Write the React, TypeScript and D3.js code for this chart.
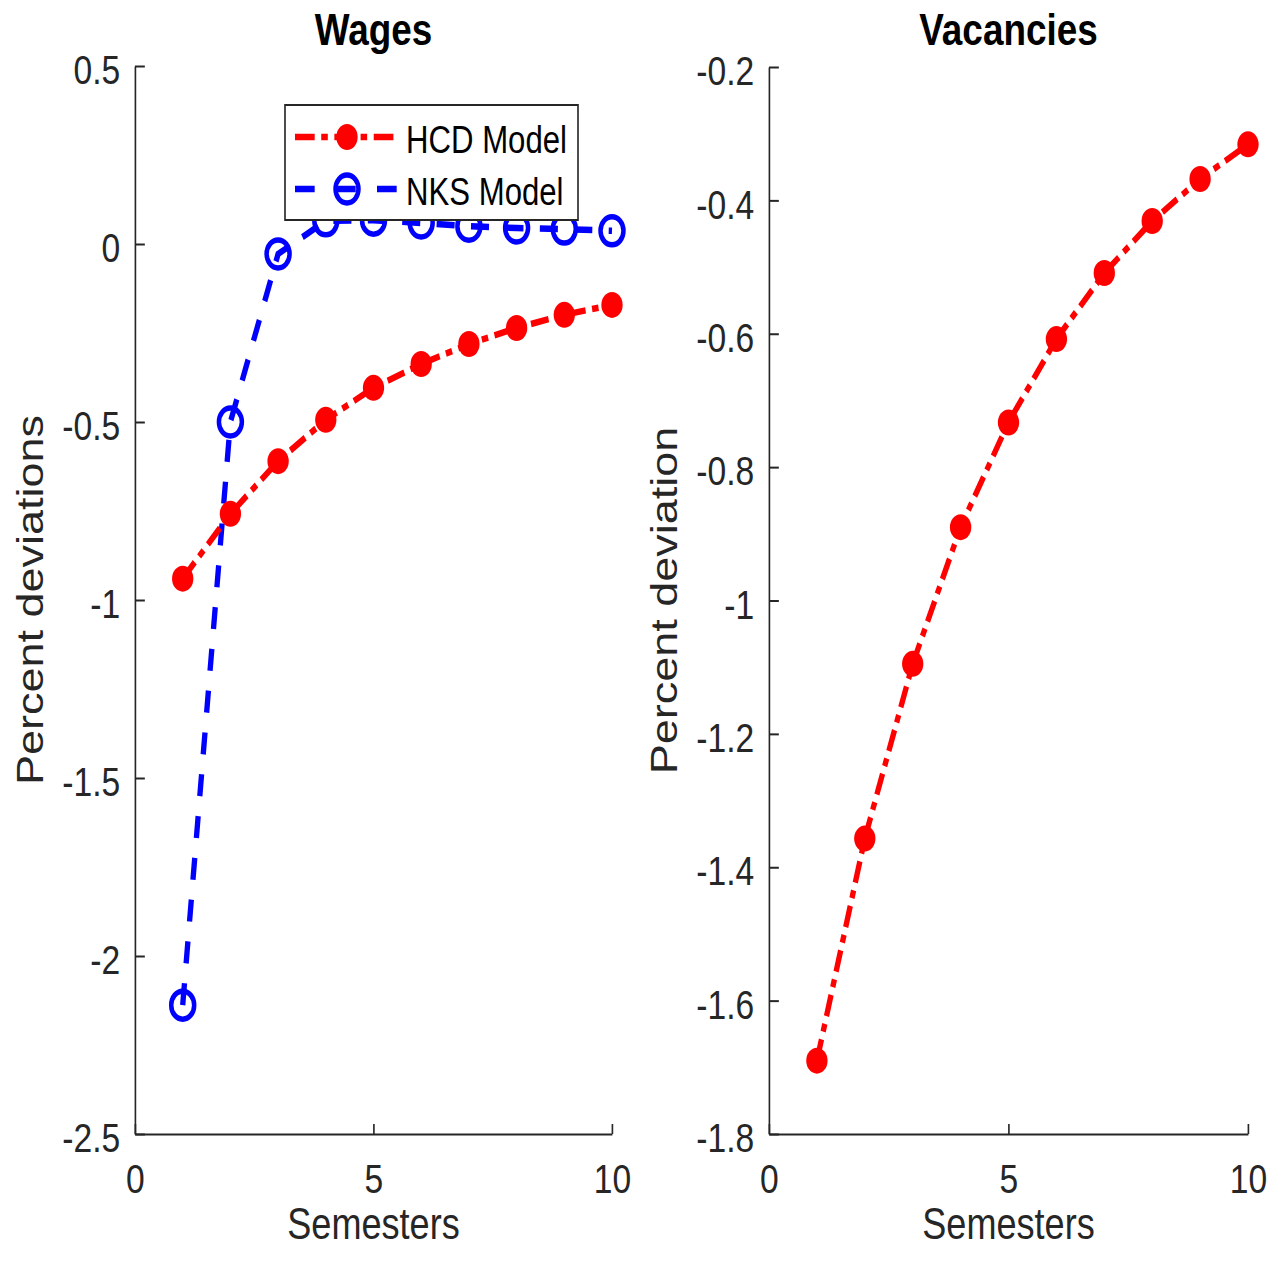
import React, { useRef, useEffect } from 'react';
import * as d3 from 'd3';

// Impulse responses
const semesters = [1, 2, 3, 4, 5, 6, 7, 8, 9, 10];
const wagesHCD = [-0.94, -0.758, -0.61, -0.494, -0.404, -0.337, -0.281, -0.236, -0.199, -0.171];
const wagesNKS = [-2.138, -0.5, -0.028, 0.065, 0.067, 0.059, 0.05, 0.045, 0.042, 0.037];
const vacanciesHCD = [-1.69, -1.357, -1.095, -0.89, -0.733, -0.608, -0.509, -0.431, -0.368, -0.316];

const xTicks = [0, 5, 10];
const wagesTicks = [0.5, 0, -0.5, -1, -1.5, -2, -2.5];
const vacancyTicks = [-0.2, -0.4, -0.6, -0.8, -1, -1.2, -1.4, -1.6, -1.8];
const legendLabels = ['HCD Model', 'NKS Model'];

const W = 1283;
const H = 1268;
const SX = 0.82; // the exported figure is squeezed horizontally
const FONT = '"Liberation Sans", Arial, Helvetica, sans-serif';
const INK = '#262626';
const RED = '#ff0000';
const BLUE = '#0000ff';

function App() {
    const ref = useRef<HTMLDivElement>(null);

    useEffect(() => {
        d3.select(ref.current).selectAll('*').remove();

        const svg = d3.select(ref.current)
            .append('svg')
            .attr('width', W)
            .attr('height', H)
            .style('position', 'absolute')
            .style('left', 0)
            .style('top', 0)
            .style('background', '#fff');

        const root = svg.append('g').attr('transform', `scale(${SX},1)`);

        type Series = { values: number[]; color: string; dash: string; filled: boolean };

        function panel(o: {
            left: number; right: number; top: number; bottom: number;
            yDomain: [number, number]; yTicks: number[];
            title: string; ylabel: string; ylabelX: number;
            series: Series[];
        }) {
            const g = root.append('g');
            const x = d3.scaleLinear().domain([0, 10]).range([o.left / SX, o.right / SX]);
            const y = d3.scaleLinear().domain(o.yDomain).range([o.bottom, o.top]);

            const xAxis = d3.axisBottom(x)
                .tickValues(xTicks)
                .tickSizeInner(-10)
                .tickSizeOuter(0)
                .tickPadding(30)
                .tickFormat(d => `${d}`);

            const yAxis = d3.axisLeft(y)
                .tickValues(o.yTicks)
                .tickSizeInner(-12)
                .tickSizeOuter(0)
                .tickPadding(18)
                .tickFormat(d => `${d}`);

            const gx = g.append('g')
                .attr('transform', `translate(0,${o.bottom})`)
                .call(xAxis);
            const gy = g.append('g')
                .attr('transform', `translate(${o.left / SX},0)`)
                .call(yAxis);

            [gx, gy].forEach(a => {
                a.attr('font-family', FONT).attr('font-size', 41).attr('color', INK);
                a.selectAll('path, line').attr('stroke-width', 2);
            });
            gy.selectAll('text').attr('dy', '0.43em');

            // lines first, markers on top
            const line = d3.line<number>()
                .x((d, i) => x(semesters[i]))
                .y(d => y(d));

            o.series.forEach(s => {
                g.append('path')
                    .datum(s.values)
                    .attr('fill', 'none')
                    .attr('stroke', s.color)
                    .attr('stroke-width', 6.5)
                    .attr('stroke-dasharray', s.dash)
                    .attr('d', line);

                g.selectAll(null)
                    .data(s.values)
                    .enter()
                    .append('circle')
                    .attr('cx', (d, i) => x(semesters[i]))
                    .attr('cy', d => y(d))
                    .attr('r', s.filled ? 13 : 14)
                    .attr('fill', s.filled ? s.color : 'none')
                    .attr('stroke', s.color)
                    .attr('stroke-width', s.filled ? 0 : 5.5);
            });

            g.append('text')
                .attr('x', (o.left + o.right) / 2 / SX)
                .attr('y', 45)
                .attr('text-anchor', 'middle')
                .attr('font-family', FONT)
                .attr('font-weight', 'bold')
                .attr('font-size', 45)
                .attr('fill', '#000')
                .text(o.title);

            g.append('text')
                .attr('x', (o.left + o.right) / 2 / SX)
                .attr('y', 1239)
                .attr('text-anchor', 'middle')
                .attr('font-family', FONT)
                .attr('font-size', 44)
                .attr('fill', INK)
                .text('Semesters');

            g.append('text')
                .attr('transform', `translate(${o.ylabelX / SX},${(o.top + o.bottom) / 2}) rotate(-90)`)
                .attr('text-anchor', 'middle')
                .attr('font-family', FONT)
                .attr('font-size', 45)
                .attr('fill', INK)
                .text(o.ylabel);
        }

        panel({
            left: 135, right: 612, top: 66, bottom: 1134,
            yDomain: [-2.5, 0.5], yTicks: wagesTicks,
            title: 'Wages', ylabel: 'Percent deviations', ylabelX: 43,
            series: [
                { values: wagesNKS, color: BLUE, dash: '22,20', filled: false },
                { values: wagesHCD, color: RED, dash: '22,8,8,8', filled: true },
            ],
        });

        panel({
            left: 769, right: 1248, top: 67, bottom: 1134,
            yDomain: [-1.8, -0.2], yTicks: vacancyTicks,
            title: 'Vacancies', ylabel: 'Percent deviation', ylabelX: 677,
            series: [
                { values: vacanciesHCD, color: RED, dash: '22,8,8,8', filled: true },
            ],
        });

        // legend of the wages panel
        const lg = root.append('g');
        lg.append('rect')
            .attr('x', 285 / SX)
            .attr('y', 105)
            .attr('width', (578 - 285) / SX)
            .attr('height', 115)
            .attr('fill', '#fff')
            .attr('stroke', INK)
            .attr('stroke-width', 2);

        const legendRows = [
            { label: legendLabels[0], color: RED, dash: '24,8,8,8', filled: true, y: 137 },
            { label: legendLabels[1], color: BLUE, dash: '24,26', filled: false, y: 189 },
        ];
        legendRows.forEach(r => {
            lg.append('line')
                .attr('x1', 295 / SX)
                .attr('x2', 398 / SX)
                .attr('y1', r.y)
                .attr('y2', r.y)
                .attr('stroke', r.color)
                .attr('stroke-width', 6.5)
                .attr('stroke-dasharray', r.dash);
            lg.append('circle')
                .attr('cx', 347 / SX)
                .attr('cy', r.y)
                .attr('r', r.filled ? 13 : 14)
                .attr('fill', r.filled ? r.color : 'none')
                .attr('stroke', r.color)
                .attr('stroke-width', r.filled ? 0 : 5.5);
            lg.append('text')
                .attr('x', 406 / SX)
                .attr('y', r.y + 16)
                .attr('font-family', FONT)
                .attr('font-size', 38)
                .attr('fill', '#000')
                .text(r.label);
        });
    }, []);

    return <div ref={ref}></div>;
}

export default App;
